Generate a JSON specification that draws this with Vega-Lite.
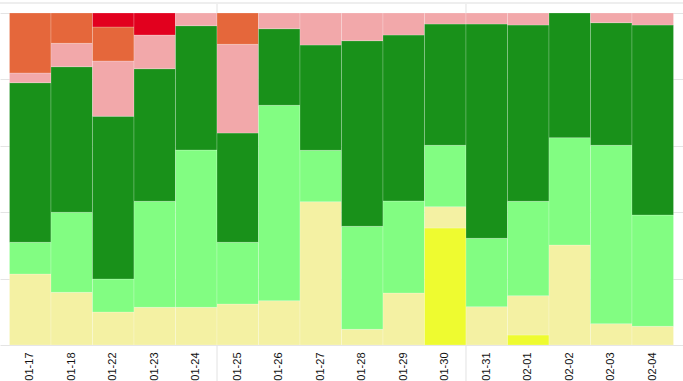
{
  "$schema": "https://vega.github.io/schema/vega-lite/v6.json",
  "width": 683,
  "height": 332,
  "autosize": {"type": "none"},
  "padding": {"top": 13, "left": 0, "right": 0, "bottom": 36},
  "background": "white",
  "config": {"view": {"stroke": null}, "font": "Liberation Sans"},
  "datasets": {
    "bars": [
      {"d": "01-17", "level": "pale", "rank": 2, "v": 71},
      {"d": "01-17", "level": "light green", "rank": 3, "v": 31.7},
      {"d": "01-17", "level": "dark green", "rank": 4, "v": 159.6},
      {"d": "01-17", "level": "pink", "rank": 5, "v": 9.7},
      {"d": "01-17", "level": "orange", "rank": 6, "v": 60},
      {"d": "01-18", "level": "pale", "rank": 2, "v": 52.7},
      {"d": "01-18", "level": "light green", "rank": 3, "v": 80},
      {"d": "01-18", "level": "dark green", "rank": 4, "v": 145.6},
      {"d": "01-18", "level": "pink", "rank": 5, "v": 23.4},
      {"d": "01-18", "level": "orange", "rank": 6, "v": 30.3},
      {"d": "01-22", "level": "pale", "rank": 2, "v": 33},
      {"d": "01-22", "level": "light green", "rank": 3, "v": 33},
      {"d": "01-22", "level": "dark green", "rank": 4, "v": 162.7},
      {"d": "01-22", "level": "pink", "rank": 5, "v": 55.3},
      {"d": "01-22", "level": "orange", "rank": 6, "v": 34},
      {"d": "01-22", "level": "red", "rank": 7, "v": 14},
      {"d": "01-23", "level": "pale", "rank": 2, "v": 37.7},
      {"d": "01-23", "level": "light green", "rank": 3, "v": 106},
      {"d": "01-23", "level": "dark green", "rank": 4, "v": 132.6},
      {"d": "01-23", "level": "pink", "rank": 5, "v": 33.7},
      {"d": "01-23", "level": "red", "rank": 7, "v": 22},
      {"d": "01-24", "level": "pale", "rank": 2, "v": 37.7},
      {"d": "01-24", "level": "light green", "rank": 3, "v": 157.3},
      {"d": "01-24", "level": "dark green", "rank": 4, "v": 124.3},
      {"d": "01-24", "level": "pink", "rank": 5, "v": 12.7},
      {"d": "01-25", "level": "pale", "rank": 2, "v": 41},
      {"d": "01-25", "level": "light green", "rank": 3, "v": 61.7},
      {"d": "01-25", "level": "dark green", "rank": 4, "v": 109.3},
      {"d": "01-25", "level": "pink", "rank": 5, "v": 88.7},
      {"d": "01-25", "level": "orange", "rank": 6, "v": 31.3},
      {"d": "01-26", "level": "pale", "rank": 2, "v": 44.3},
      {"d": "01-26", "level": "light green", "rank": 3, "v": 195.4},
      {"d": "01-26", "level": "dark green", "rank": 4, "v": 76.6},
      {"d": "01-26", "level": "pink", "rank": 5, "v": 15.7},
      {"d": "01-27", "level": "pale", "rank": 2, "v": 143.3},
      {"d": "01-27", "level": "light green", "rank": 3, "v": 51.4},
      {"d": "01-27", "level": "dark green", "rank": 4, "v": 105.3},
      {"d": "01-27", "level": "pink", "rank": 5, "v": 32},
      {"d": "01-28", "level": "pale", "rank": 2, "v": 15.7},
      {"d": "01-28", "level": "light green", "rank": 3, "v": 103},
      {"d": "01-28", "level": "dark green", "rank": 4, "v": 185.6},
      {"d": "01-28", "level": "pink", "rank": 5, "v": 27.7},
      {"d": "01-29", "level": "pale", "rank": 2, "v": 52},
      {"d": "01-29", "level": "light green", "rank": 3, "v": 92},
      {"d": "01-29", "level": "dark green", "rank": 4, "v": 166},
      {"d": "01-29", "level": "pink", "rank": 5, "v": 22},
      {"d": "01-30", "level": "bright yellow", "rank": 1, "v": 117},
      {"d": "01-30", "level": "pale", "rank": 2, "v": 21.3},
      {"d": "01-30", "level": "light green", "rank": 3, "v": 61.4},
      {"d": "01-30", "level": "dark green", "rank": 4, "v": 121.3},
      {"d": "01-30", "level": "pink", "rank": 5, "v": 11},
      {"d": "01-31", "level": "pale", "rank": 2, "v": 38.3},
      {"d": "01-31", "level": "light green", "rank": 3, "v": 68.4},
      {"d": "01-31", "level": "dark green", "rank": 4, "v": 214.3},
      {"d": "01-31", "level": "pink", "rank": 5, "v": 11},
      {"d": "02-01", "level": "bright yellow", "rank": 1, "v": 10},
      {"d": "02-01", "level": "pale", "rank": 2, "v": 39.3},
      {"d": "02-01", "level": "light green", "rank": 3, "v": 94.4},
      {"d": "02-01", "level": "dark green", "rank": 4, "v": 176.3},
      {"d": "02-01", "level": "pink", "rank": 5, "v": 12},
      {"d": "02-02", "level": "pale", "rank": 2, "v": 100},
      {"d": "02-02", "level": "light green", "rank": 3, "v": 107.3},
      {"d": "02-02", "level": "dark green", "rank": 4, "v": 124.7},
      {"d": "02-03", "level": "pale", "rank": 2, "v": 21.3},
      {"d": "02-03", "level": "light green", "rank": 3, "v": 178.4},
      {"d": "02-03", "level": "dark green", "rank": 4, "v": 122.6},
      {"d": "02-03", "level": "pink", "rank": 5, "v": 9.7},
      {"d": "02-04", "level": "pale", "rank": 2, "v": 18.7},
      {"d": "02-04", "level": "light green", "rank": 3, "v": 111.3},
      {"d": "02-04", "level": "dark green", "rank": 4, "v": 190},
      {"d": "02-04", "level": "pink", "rank": 5, "v": 12}
    ],
    "breaks": [{"d": "01-25"}, {"d": "01-31"}]
  },
  "layer": [
    {
      "data": {"name": "breaks"},
      "mark": {"type": "rule", "color": "#e2e2e2", "strokeWidth": 1},
      "encoding": {
        "x": {"field": "d", "type": "ordinal", "bandPosition": 0},
        "y": {"datum": 1.03, "type": "quantitative"},
        "y2": {"datum": -0.12}
      }
    },
    {
      "data": {"name": "bars"},
      "mark": {"type": "bar", "stroke": "white", "strokeWidth": 0.6, "strokeOpacity": 0.35},
      "encoding": {
        "x": {
          "field": "d",
          "type": "ordinal",
          "title": null,
          "scale": {"paddingInner": 0, "paddingOuter": 0.229},
          "axis": {"labelAngle": -90, "domain": false, "ticks": false, "labelPadding": 7, "labelFontSize": 11, "labelColor": "#111", "labelFont": "Liberation Sans"}
        },
        "y": {
          "field": "v",
          "type": "quantitative",
          "stack": "normalize",
          "title": null,
          "scale": {"domain": [0, 1], "nice": false},
          "axis": {"labels": false, "ticks": false, "domain": false, "tickCount": 5, "grid": true, "gridColor": "#e4e4e4"}
        },
        "color": {
          "field": "level",
          "type": "nominal",
          "legend": null,
          "scale": {
            "domain": ["bright yellow", "pale", "light green", "dark green", "pink", "orange", "red"],
            "range": ["#eefb30", "#f4f1a3", "#82fd82", "#19911a", "#f2a8aa", "#e5673b", "#e2001e"]
          }
        },
        "order": {"field": "rank", "type": "quantitative"}
      }
    },
    {
      "data": {"values": [{}]},
      "mark": {"type": "rule", "color": "#eeeeee", "strokeWidth": 2},
      "encoding": {"y": {"datum": 1.03, "type": "quantitative"}}
    }
  ]
}
